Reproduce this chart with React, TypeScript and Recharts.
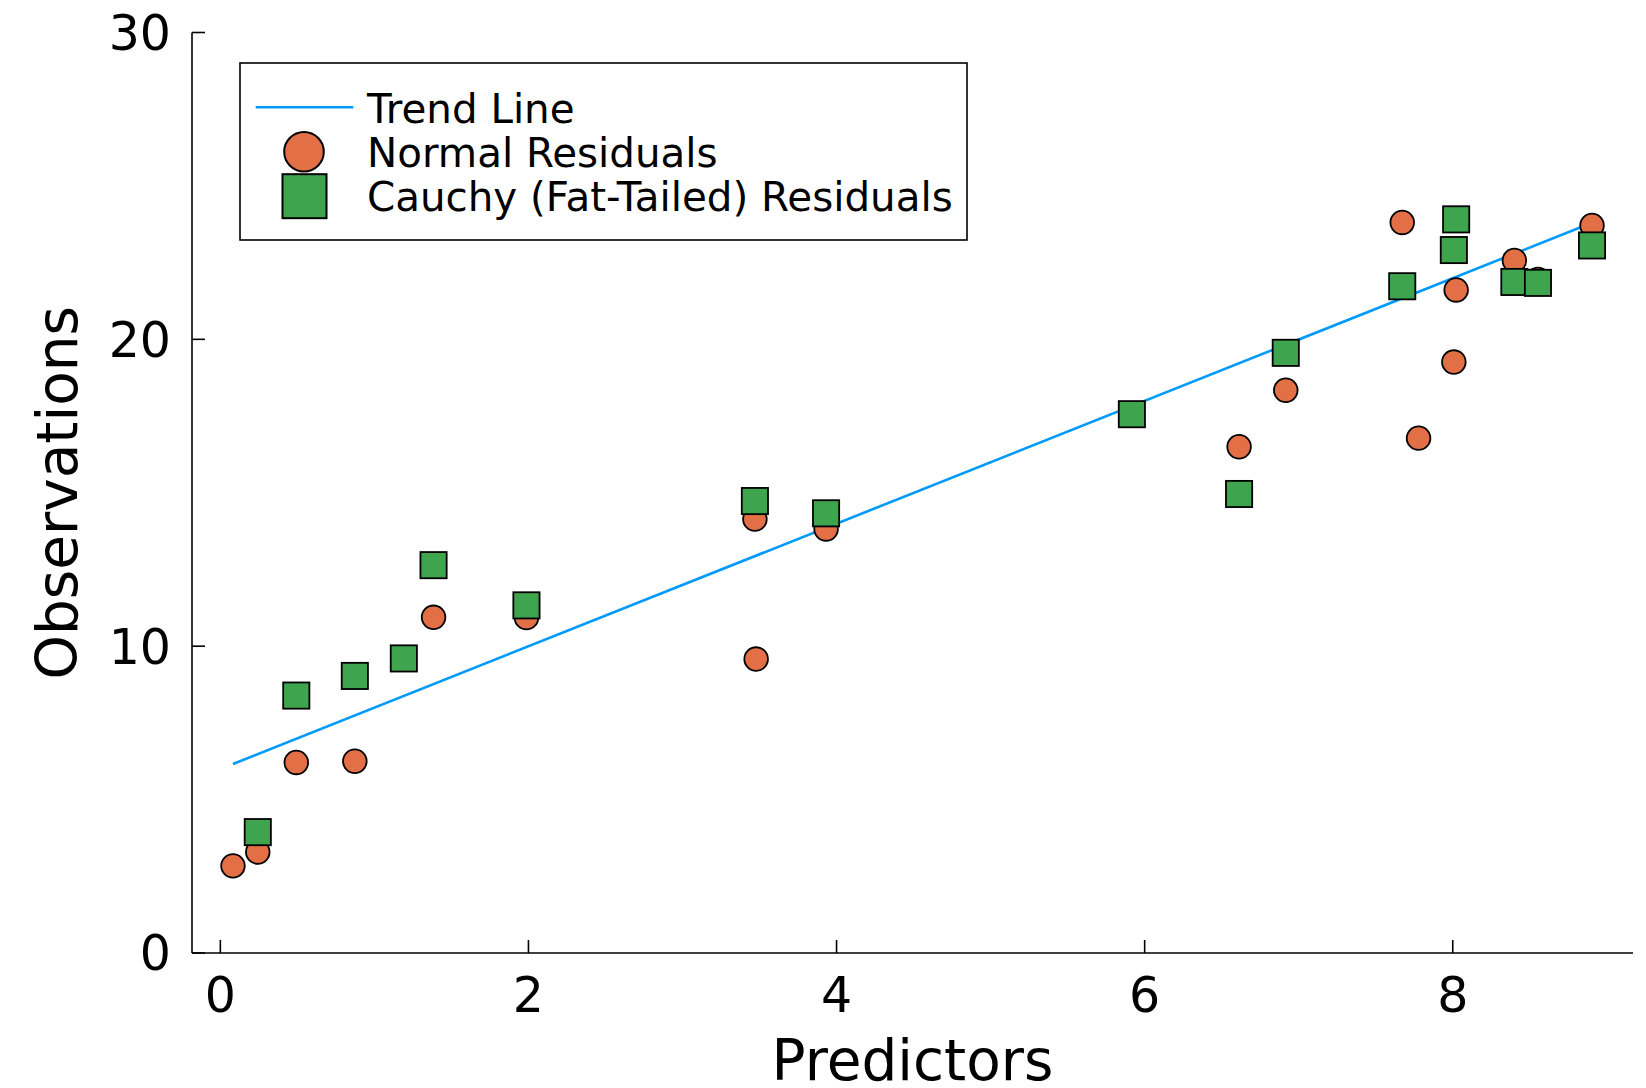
import React from 'react';
import { ScatterChart, Scatter, XAxis, YAxis, Legend } from 'recharts';

const normalX = [0.082, 0.243, 0.493, 0.873, 1.384, 1.987, 3.47, 3.478, 3.932, 6.613, 6.916, 7.672, 7.778, 8.007, 8.022, 8.4, 8.553, 8.904];
const normalY = [2.84, 3.29, 6.21, 6.25, 10.94, 10.93, 14.14, 9.58, 13.82, 16.5, 18.34, 23.81, 16.78, 19.26, 21.61, 22.57, 21.95, 23.71];

const cauchyX = [0.243, 0.493, 0.873, 1.191, 1.384, 1.987, 3.47, 3.932, 5.917, 6.613, 6.916, 7.672, 8.007, 8.022, 8.4, 8.553, 8.904];
const cauchyY = [3.94, 8.39, 9.03, 9.6, 12.64, 11.33, 14.73, 14.33, 17.56, 14.96, 19.56, 21.73, 22.91, 23.91, 21.87, 21.84, 23.06];

const trendX = [0.082, 8.904];
const trendY = [6.16, 23.8];

const xTicks = [0, 2, 4, 6, 8];
const yTicks = [0, 10, 20, 30];

const seriesNames = ['Trend Line', 'Normal Residuals', 'Cauchy (Fat-Tailed) Residuals'];

const BLUE = '#009AFA';
const ORANGE = '#E26F46';
const GREEN = '#3EA44E';
const FONT = '"DejaVu Sans", sans-serif';

const normalData = normalX.map((x, i) => ({ x, y: normalY[i] }));
const cauchyData = cauchyX.map((x, i) => ({ x, y: cauchyY[i] }));
const trendData = trendX.map((x, i) => ({ x, y: trendY[i] }));

const CircleShape = (props: any) => {
  const { cx, cy } = props;
  if (cx == null || cy == null) return <g />;
  return <circle cx={cx} cy={cy} r={11.8} fill={ORANGE} stroke="#000" strokeWidth={1.8} />;
};

const SquareShape = (props: any) => {
  const { cx, cy } = props;
  if (cx == null || cy == null) return <g />;
  const s = 26.2;
  return <rect x={cx - s / 2} y={cy - s / 2} width={s} height={s} fill={GREEN} stroke="#000" strokeWidth={1.8} />;
};

const NoShape = () => <g />;

const LegendBox = () => (
  <svg width={729} height={179} style={{ display: 'block' }}>
    <rect x={1} y={1} width={727} height={177} fill="#fff" stroke="#000" strokeWidth={1.6} />
    <line x1={16.7} y1={45.3} x2={114.3} y2={45.3} stroke={BLUE} strokeWidth={2.6} />
    <circle cx={65} cy={89.7} r={19.8} fill={ORANGE} stroke="#000" strokeWidth={2} />
    <rect x={65.5 - 22} y={134.2 - 22} width={44} height={44} fill={GREEN} stroke="#000" strokeWidth={2} />
    <text x={128} y={61.3} fontSize={40.4} fontFamily={FONT} fill="#000">{seriesNames[0]}</text>
    <text x={128} y={104.7} fontSize={40.4} fontFamily={FONT} fill="#000">{seriesNames[1]}</text>
    <text x={128} y={149} fontSize={40.4} fontFamily={FONT} fill="#000">{seriesNames[2]}</text>
  </svg>
);

const XLabel = (props: any) => {
  const vb = props.viewBox || {};
  return (
    <text x={vb.x + vb.width / 2} y={vb.y + 127} textAnchor="middle" fontSize={56.5} fontFamily={FONT} fill="#000">
      Predictors
    </text>
  );
};

const YLabel = (props: any) => {
  const vb = props.viewBox || {};
  const cx = 77;
  const cy = vb.y + vb.height / 2;
  return (
    <text x={cx} y={cy} transform={`rotate(-90, ${cx}, ${cy})`} textAnchor="middle" fontSize={56.5} fontFamily={FONT} fill="#000">
      Observations
    </text>
  );
};

export default function App() {
  return (
    <div style={{ position: 'absolute', left: 0, top: 0, width: 1646, height: 1088, background: '#fff' }}>
      <ScatterChart width={1646} height={1088} margin={{ top: 32.5, right: 13, bottom: 0, left: 0 }}>
        <XAxis
          type="number"
          dataKey="x"
          domain={[-0.184, 9.17]}
          allowDataOverflow
          ticks={xTicks}
          height={135}
          axisLine={{ stroke: '#000', strokeWidth: 1.6 }}
          tickLine={{ stroke: '#000', strokeWidth: 1.6 }}
          tickSize={-13}
          tickMargin={37}
          tick={{ fontSize: 49, fill: '#000', fontFamily: FONT }}
          label={<XLabel />}
        />
        <YAxis
          type="number"
          dataKey="y"
          domain={[0, 30]}
          allowDataOverflow
          ticks={yTicks}
          width={192}
          axisLine={{ stroke: '#000', strokeWidth: 1.6 }}
          tickLine={{ stroke: '#000', strokeWidth: 1.6 }}
          tickSize={-13}
          tickMargin={34}
          tick={{ fontSize: 49, fill: '#000', fontFamily: FONT }}
          label={<YLabel />}
        />
        <Legend
          layout="vertical"
          align="center"
          verticalAlign="middle"
          content={() => <LegendBox />}
          wrapperStyle={{ position: 'absolute', left: 239, top: 62, width: 729, height: 179 }}
        />
        <Scatter
          name={seriesNames[0]}
          data={trendData}
          shape={NoShape}
          line={{ stroke: BLUE, strokeWidth: 2.6 }}
          isAnimationActive={false}
        />
        <Scatter name={seriesNames[1]} data={normalData} shape={CircleShape} isAnimationActive={false} />
        <Scatter name={seriesNames[2]} data={cauchyData} shape={SquareShape} isAnimationActive={false} />
      </ScatterChart>
    </div>
  );
}
